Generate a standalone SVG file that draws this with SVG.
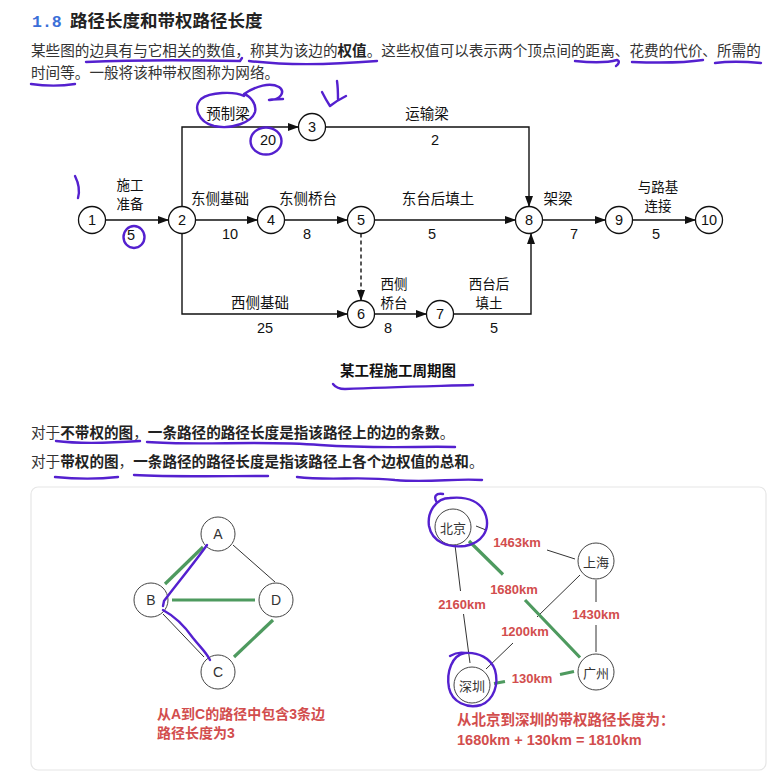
<svg xmlns="http://www.w3.org/2000/svg" width="768" height="774" viewBox="0 0 768 774">
<style>
.t{font-family:"Noto Sans CJK SC","Liberation Sans",sans-serif;fill:#333;}
.p{font-size:14.6px;}
.b{font-weight:bold;fill:#222;}
.lab{font-family:"Noto Sans CJK SC","Liberation Sans",sans-serif;font-size:14.5px;fill:#111;text-anchor:middle;dominant-baseline:central;}
.lab2{font-size:13.5px;}
.num{font-family:"Liberation Sans",Arial,sans-serif;font-size:14.5px;fill:#111;text-anchor:middle;dominant-baseline:central;}
.nd circle{fill:#fff;stroke:#111;stroke-width:1.3;}
.edge{fill:none;stroke:#111;stroke-width:1.4;}
.g{fill:#fff;stroke:#444;stroke-width:1;}
.gl{font-family:"Liberation Sans","Noto Sans CJK SC",sans-serif;font-size:14px;fill:#333;text-anchor:middle;dominant-baseline:central;}
.cl{font-family:"Noto Sans CJK SC",sans-serif;font-size:13px;fill:#333;text-anchor:middle;dominant-baseline:central;}
.thin{stroke:#333;stroke-width:1;fill:none;}
.green{stroke:#4e9a5f;stroke-width:3.2;fill:none;}
.red{font-family:"Liberation Sans","Noto Sans CJK SC",sans-serif;font-weight:bold;fill:#d24d4d;}
.km{font-size:13px;text-anchor:middle;dominant-baseline:central;}
.ink{fill:none;stroke:#5420cf;stroke-width:2.4;stroke-linecap:round;stroke-linejoin:round;}
</style>
<defs>
<marker id="ah" markerWidth="11" markerHeight="8" refX="10" refY="4" orient="auto" markerUnits="userSpaceOnUse">
<path d="M0,0 L11,4 L0,8 Z" fill="#111"/>
</marker>
</defs>
<rect width="768" height="774" fill="#fff"/>

<!-- Heading and paragraph -->
<text x="32" y="27" font-family="Liberation Mono,monospace" font-size="16.5" font-weight="bold" fill="#3a6fd8">1.8</text>
<text x="70" y="27" class="t b" font-size="17.5">路径长度和带权路径长度</text>
<text x="31" y="56" class="t p">某些图的边具有与它相关的数值，称其为该边的<tspan class="b">权值</tspan>。这些权值可以表示两个顶点间的距离、花费的代价、所需的</text>
<text x="31" y="78" class="t p">时间等。一般将该种带权图称为网络。</text>

<!-- AOE network connectors -->
<g id="connectors">
<path class="edge" d="M105.5,220 H168" marker-end="url(#ah)"/>
<path class="edge" d="M182,206.5 V127 H298" marker-end="url(#ah)"/>
<path class="edge" d="M326,127 H529 V206" marker-end="url(#ah)"/>
<path class="edge" d="M195.5,220 H257" marker-end="url(#ah)"/>
<path class="edge" d="M284.5,220 H347" marker-end="url(#ah)"/>
<path class="edge" d="M374.5,220 H515" marker-end="url(#ah)"/>
<path class="edge" d="M542.5,220 H605" marker-end="url(#ah)"/>
<path class="edge" d="M632.5,220 H695" marker-end="url(#ah)"/>
<path class="edge" d="M182,233.5 V314 H347" marker-end="url(#ah)"/>
<path class="edge" d="M361,233.5 V300" stroke-dasharray="4,3" marker-end="url(#ah)"/>
<path class="edge" d="M374.5,314 H426" marker-end="url(#ah)"/>
<path class="edge" d="M453.5,314 H531 V234" marker-end="url(#ah)"/>
</g>

<g id="n1" class="nd"><circle cx="92" cy="220" r="13.5"/><text class="num" x="92" y="220">1</text></g>
<g id="n2" class="nd"><circle cx="182" cy="220" r="13.5"/><text class="num" x="182" y="220">2</text></g>
<g id="n3" class="nd"><circle cx="312" cy="127" r="13.5"/><text class="num" x="312" y="127">3</text></g>
<g id="n4" class="nd"><circle cx="271" cy="220" r="13.5"/><text class="num" x="271" y="220">4</text></g>
<g id="n5" class="nd"><circle cx="361" cy="220" r="13.5"/><text class="num" x="361" y="220">5</text></g>
<g id="n6" class="nd"><circle cx="361" cy="314" r="13.5"/><text class="num" x="361" y="314">6</text></g>
<g id="n7" class="nd"><circle cx="440" cy="314" r="13.5"/><text class="num" x="440" y="314">7</text></g>
<g id="n8" class="nd"><circle cx="529" cy="220" r="13.5"/><text class="num" x="529" y="220">8</text></g>
<g id="n9" class="nd"><circle cx="619" cy="220" r="13.5"/><text class="num" x="619" y="220">9</text></g>
<g id="n10" class="nd"><circle cx="709" cy="220" r="13.5"/><text class="num" x="709" y="220">10</text></g>

<g id="aoe-labels">
<text class="lab lab2" x="130" y="184">施工</text>
<text class="lab lab2" x="130" y="203">准备</text>
<text class="num" x="131" y="235">5</text>
<text class="lab" x="228" y="112">预制梁</text>
<text class="num" x="268" y="140">20</text>
<text class="lab" x="220" y="197">东侧基础</text>
<text class="num" x="230" y="234">10</text>
<text class="lab" x="308" y="197">东侧桥台</text>
<text class="num" x="307" y="234">8</text>
<text class="lab" x="427" y="112">运输梁</text>
<text class="num" x="435" y="140">2</text>
<text class="lab" x="438" y="197">东台后填土</text>
<text class="num" x="432" y="234">5</text>
<text class="lab" x="558" y="197">架梁</text>
<text class="num" x="574" y="234">7</text>
<text class="lab lab2" x="658" y="186">与路基</text>
<text class="lab lab2" x="658" y="205">连接</text>
<text class="num" x="656" y="234">5</text>
<text class="lab" x="260" y="301">西侧基础</text>
<text class="num" x="265" y="328">25</text>
<text class="lab lab2" x="394" y="283">西侧</text>
<text class="lab lab2" x="394" y="302">桥台</text>
<text class="num" x="388" y="328">8</text>
<text class="lab lab2" x="489" y="283">西台后</text>
<text class="lab lab2" x="489" y="302">填土</text>
<text class="num" x="494" y="328">5</text>
<text class="lab" x="398" y="369" font-weight="bold">某工程施工周期图</text>
</g>

<!-- middle text -->
<text x="31" y="438" class="t p">对于<tspan class="b">不带权的图</tspan>，<tspan class="b">一条路径的路径长度是指该路径上的边的条数</tspan>。</text>
<text x="31" y="467" class="t p">对于<tspan class="b">带权的图</tspan>，<tspan class="b">一条路径的路径长度是指该路径上各个边权值的总和</tspan>。</text>

<!-- bottom panel -->
<rect x="31" y="487" width="735" height="283" rx="7" fill="#fff" stroke="#e6e6e6" stroke-width="1.2"/>

<!-- left graph -->
<g id="left-edges">
<line class="thin" x1="233" y1="545" x2="275" y2="582"/>
<line class="thin" x1="163" y1="614" x2="204" y2="657"/>
<line class="green" x1="165" y1="584" x2="203" y2="547"/>
<line class="green" x1="172" y1="600" x2="255" y2="600"/>
<line class="green" x1="273" y1="620" x2="234" y2="657"/>
</g>
<g id="gA"><circle class="g" cx="218" cy="534" r="17"/><text class="gl" x="218" y="534">A</text></g>
<g id="gB"><circle class="g" cx="151" cy="600" r="17"/><text class="gl" x="151" y="600">B</text></g>
<g id="gD"><circle class="g" cx="276" cy="600" r="17"/><text class="gl" x="276" y="600">D</text></g>
<g id="gC"><circle class="g" cx="218" cy="672" r="17"/><text class="gl" x="218" y="672">C</text></g>
<text class="red" font-size="14" x="157" y="719">从A到C的路径中包含3条边</text>
<text class="red" font-size="14" x="157" y="738">路径长度为3</text>

<!-- right graph -->
<g id="right-edges">
<path class="thin" d="M476,526 L486,530 M547,550 L575,559"/>
<path class="thin" d="M455,545 L460.5,591 M463.5,614 L470,663"/>
<path class="thin" d="M580,575 L537,617 M513,643 L486,669"/>
<path class="thin" d="M596,580 V602 M596,625 V652"/>
<path class="green" d="M469,541 L503,574.5 M525,600 L580,657.5"/>
<path class="green" d="M494,683.5 L505,681.5 M560,674.5 L574,671.5"/>
</g>
<g id="bj"><circle class="g" cx="453" cy="527" r="18"/><text class="cl" x="453" y="527">北京</text></g>
<g id="sh"><circle class="g" cx="596" cy="561" r="18"/><text class="cl" x="596" y="561">上海</text></g>
<g id="sz"><circle class="g" cx="472" cy="685" r="18"/><text class="cl" x="472" y="685">深圳</text></g>
<g id="gz"><circle class="g" cx="596" cy="672" r="18"/><text class="cl" x="596" y="672">广州</text></g>
<g id="km-labels">
<text class="red km" x="517" y="542">1463km</text>
<text class="red km" x="514" y="589">1680km</text>
<text class="red km" x="462" y="604">2160km</text>
<text class="red km" x="596" y="614">1430km</text>
<text class="red km" x="525" y="631">1200km</text>
<text class="red km" x="532" y="678">130km</text>
</g>
<text class="red" font-size="14.5" x="457" y="725">从北京到深圳的带权路径长度为：</text>
<text class="red" font-size="14.5" x="457" y="745">1680km + 130km = 1810km</text>

<!-- hand-drawn ink annotations -->
<g id="ink">
<path class="ink" d="M86,62 C130,60 190,60 240,61 L242,58"/>
<path class="ink" d="M249,61 C290,66 340,64 377,61"/>
<path class="ink" d="M575,61 C595,63 610,62 617,60 C620,61 619,64 616,66"/>
<path class="ink" d="M632,62 C660,63 690,62 703,60"/>
<path class="ink" d="M715,63 C730,61 750,62 761,63"/>
<path class="ink" d="M31,84 C45,86 62,86 75,84"/>
<path class="ink" d="M75,176 C79,184 80,191 78,198"/>
<path class="ink" d="M244,96 C234,91 210,92 201,99 C193,107 198,122 214,126 C232,130 252,122 255,112 C257,104 250,96 244,94 C256,86 270,82 279,87 C286,92 280,100 270,100 C266,100 275,99 283,99"/>
<path class="ink" d="M322,92 C325,98 328,103 330,106 C335,102 340,99 346,96 M337,81 C338,88 338,94 338,99"/>
<ellipse class="ink" cx="266" cy="141" rx="15.5" ry="13.5"/>
<ellipse class="ink" cx="134" cy="237" rx="10.5" ry="11"/>
<path class="ink" d="M333,384 C336,388 340,389 345,389 C390,387 440,386 473,385" stroke-width="3"/>
<path class="ink" d="M56,441 C80,444 110,443 140,441"/>
<path class="ink" d="M147,442 C200,446 260,440 320,445 C380,449 420,446 455,447"/>
<path class="ink" d="M55,477 C75,479 100,479 118,477"/>
<path class="ink" d="M134,475 C170,477 220,476 268,476"/>
<path class="ink" d="M297,477 C330,481 360,476 395,480 C430,483 455,478 482,480"/>
<path class="ink" d="M207,545 C195,562 176,585 164,601 L163,606" stroke-width="3.2"/>
<path class="ink" d="M163,610 C176,617 186,628 193,638 C201,648 206,652 210,660" stroke-width="3.2"/>
<path class="ink" d="M437,503 C433,496 436,493 443,494 M450,498 C436,498 427,512 429,526 C432,542 448,548 465,546 C482,543 490,530 486,516 C482,502 468,496 450,498"/>
<path class="ink" d="M450,656 C455,653 460,652 465,653 C452,655 446,672 449,688 C452,702 467,709 481,705 C494,700 499,684 495,670 C491,658 478,652 465,653"/>
</g>
</svg>
